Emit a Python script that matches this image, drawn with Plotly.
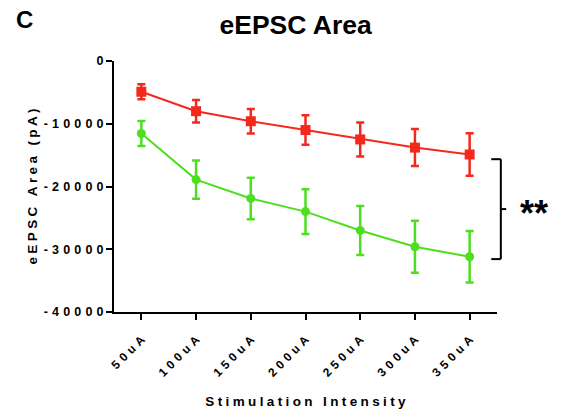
import plotly.graph_objects as go

# Stimulation intensities (categories)
intensity = ["50uA", "100uA", "150uA", "200uA", "250uA", "300uA", "350uA"]

# Mean eEPSC area (pA) and SEM for each group
red_mean = [-4900, -8000, -9600, -11000, -12500, -13800, -14900]
red_err = [1200, 1800, 1950, 2350, 2700, 2950, 3400]
green_mean = [-11550, -18900, -21900, -24000, -27000, -29600, -31200]
green_err = [2000, 3050, 3300, 3550, 3900, 4150, 4100]

y_ticks = [0, -10000, -20000, -30000, -40000]

RED = "#F2291C"
GREEN = "#4DDF1F"
FONT = "Liberation Sans"


def spaced(s, gap="\u2005"):
    # letter-spaced label text
    return gap.join(s)


fig = go.Figure()

fig.add_trace(go.Scatter(
    x=intensity, y=green_mean, mode="lines+markers",
    line=dict(color=GREEN, width=2),
    marker=dict(symbol="circle", size=9, color=GREEN),
    error_y=dict(type="data", array=green_err, visible=True,
                 color=GREEN, thickness=2.5, width=4),
    showlegend=False,
))
fig.add_trace(go.Scatter(
    x=intensity, y=red_mean, mode="lines+markers",
    line=dict(color=RED, width=2),
    marker=dict(symbol="square", size=10, color=RED),
    error_y=dict(type="data", array=red_err, visible=True,
                 color=RED, thickness=2.5, width=4),
    showlegend=False,
))

# significance bracket between the two groups at the highest intensities
bracket = dict(type="line", xref="paper", yref="y",
               line=dict(color="black", width=2))
fig.add_shape(x0=0.985, x1=1.01, y0=-15650, y1=-15650, **bracket)
fig.add_shape(x0=1.01, x1=1.01, y0=-15650, y1=-31570, **bracket)
fig.add_shape(x0=0.985, x1=1.01, y0=-31570, y1=-31570, **bracket)
fig.add_shape(x0=1.01, x1=1.024, y0=-23600, y1=-23600, **bracket)

fig.add_annotation(text="<b>**</b>", xref="paper", yref="y",
                   x=1.097, y=-24350, xanchor="center", yanchor="middle",
                   showarrow=False,
                   font=dict(family=FONT, size=36, color="black"))

fig.add_annotation(text="<b>C</b>", xref="paper", yref="paper",
                   x=-0.262, y=1.166, xanchor="left", yanchor="middle",
                   showarrow=False,
                   font=dict(family=FONT, size=24, color="black"))

fig.update_layout(
    width=562, height=419,
    margin=dict(l=114, r=65, t=61, b=105),
    paper_bgcolor="white", plot_bgcolor="white",
    title=dict(text="<b>eEPSC Area</b>", x=0.526, xanchor="center",
               y=0.94, yanchor="middle",
               font=dict(family=FONT, size=26.5, color="black")),
    font=dict(family=FONT, color="black"),
)

fig.update_xaxes(
    range=[-0.5, 6.5], showgrid=False, zeroline=False,
    showline=True, linecolor="black", linewidth=2,
    ticks="outside", ticklen=6, tickwidth=2, tickcolor="black",
    tickangle=-45, tickvals=intensity, ticklabelstandoff=8,
    ticktext=[f"<b>{spaced(t, chr(0x2004))}</b>" for t in intensity],
    tickfont=dict(family=FONT, size=12, color="black"),
    title=dict(text=f"<b>{spaced('Stimulation Intensity')}</b>", standoff=18,
               font=dict(family=FONT, size=13.5, color="black")),
)
fig.update_yaxes(
    range=[-40000, 0], showgrid=False, zeroline=False,
    showline=True, linecolor="black", linewidth=2,
    ticks="outside", ticklen=6, tickwidth=2, tickcolor="black",
    tickvals=y_ticks,
    ticktext=[f"<b>{spaced(str(v), chr(0x2004))}</b>" for v in y_ticks],
    tickfont=dict(family=FONT, size=12.5, color="black"),
    title=dict(text=f"<b>{spaced('eEPSC Area (pA)')}</b>", standoff=3,
               font=dict(family=FONT, size=13.5, color="black")),
)

fig.write_html("out.html")
